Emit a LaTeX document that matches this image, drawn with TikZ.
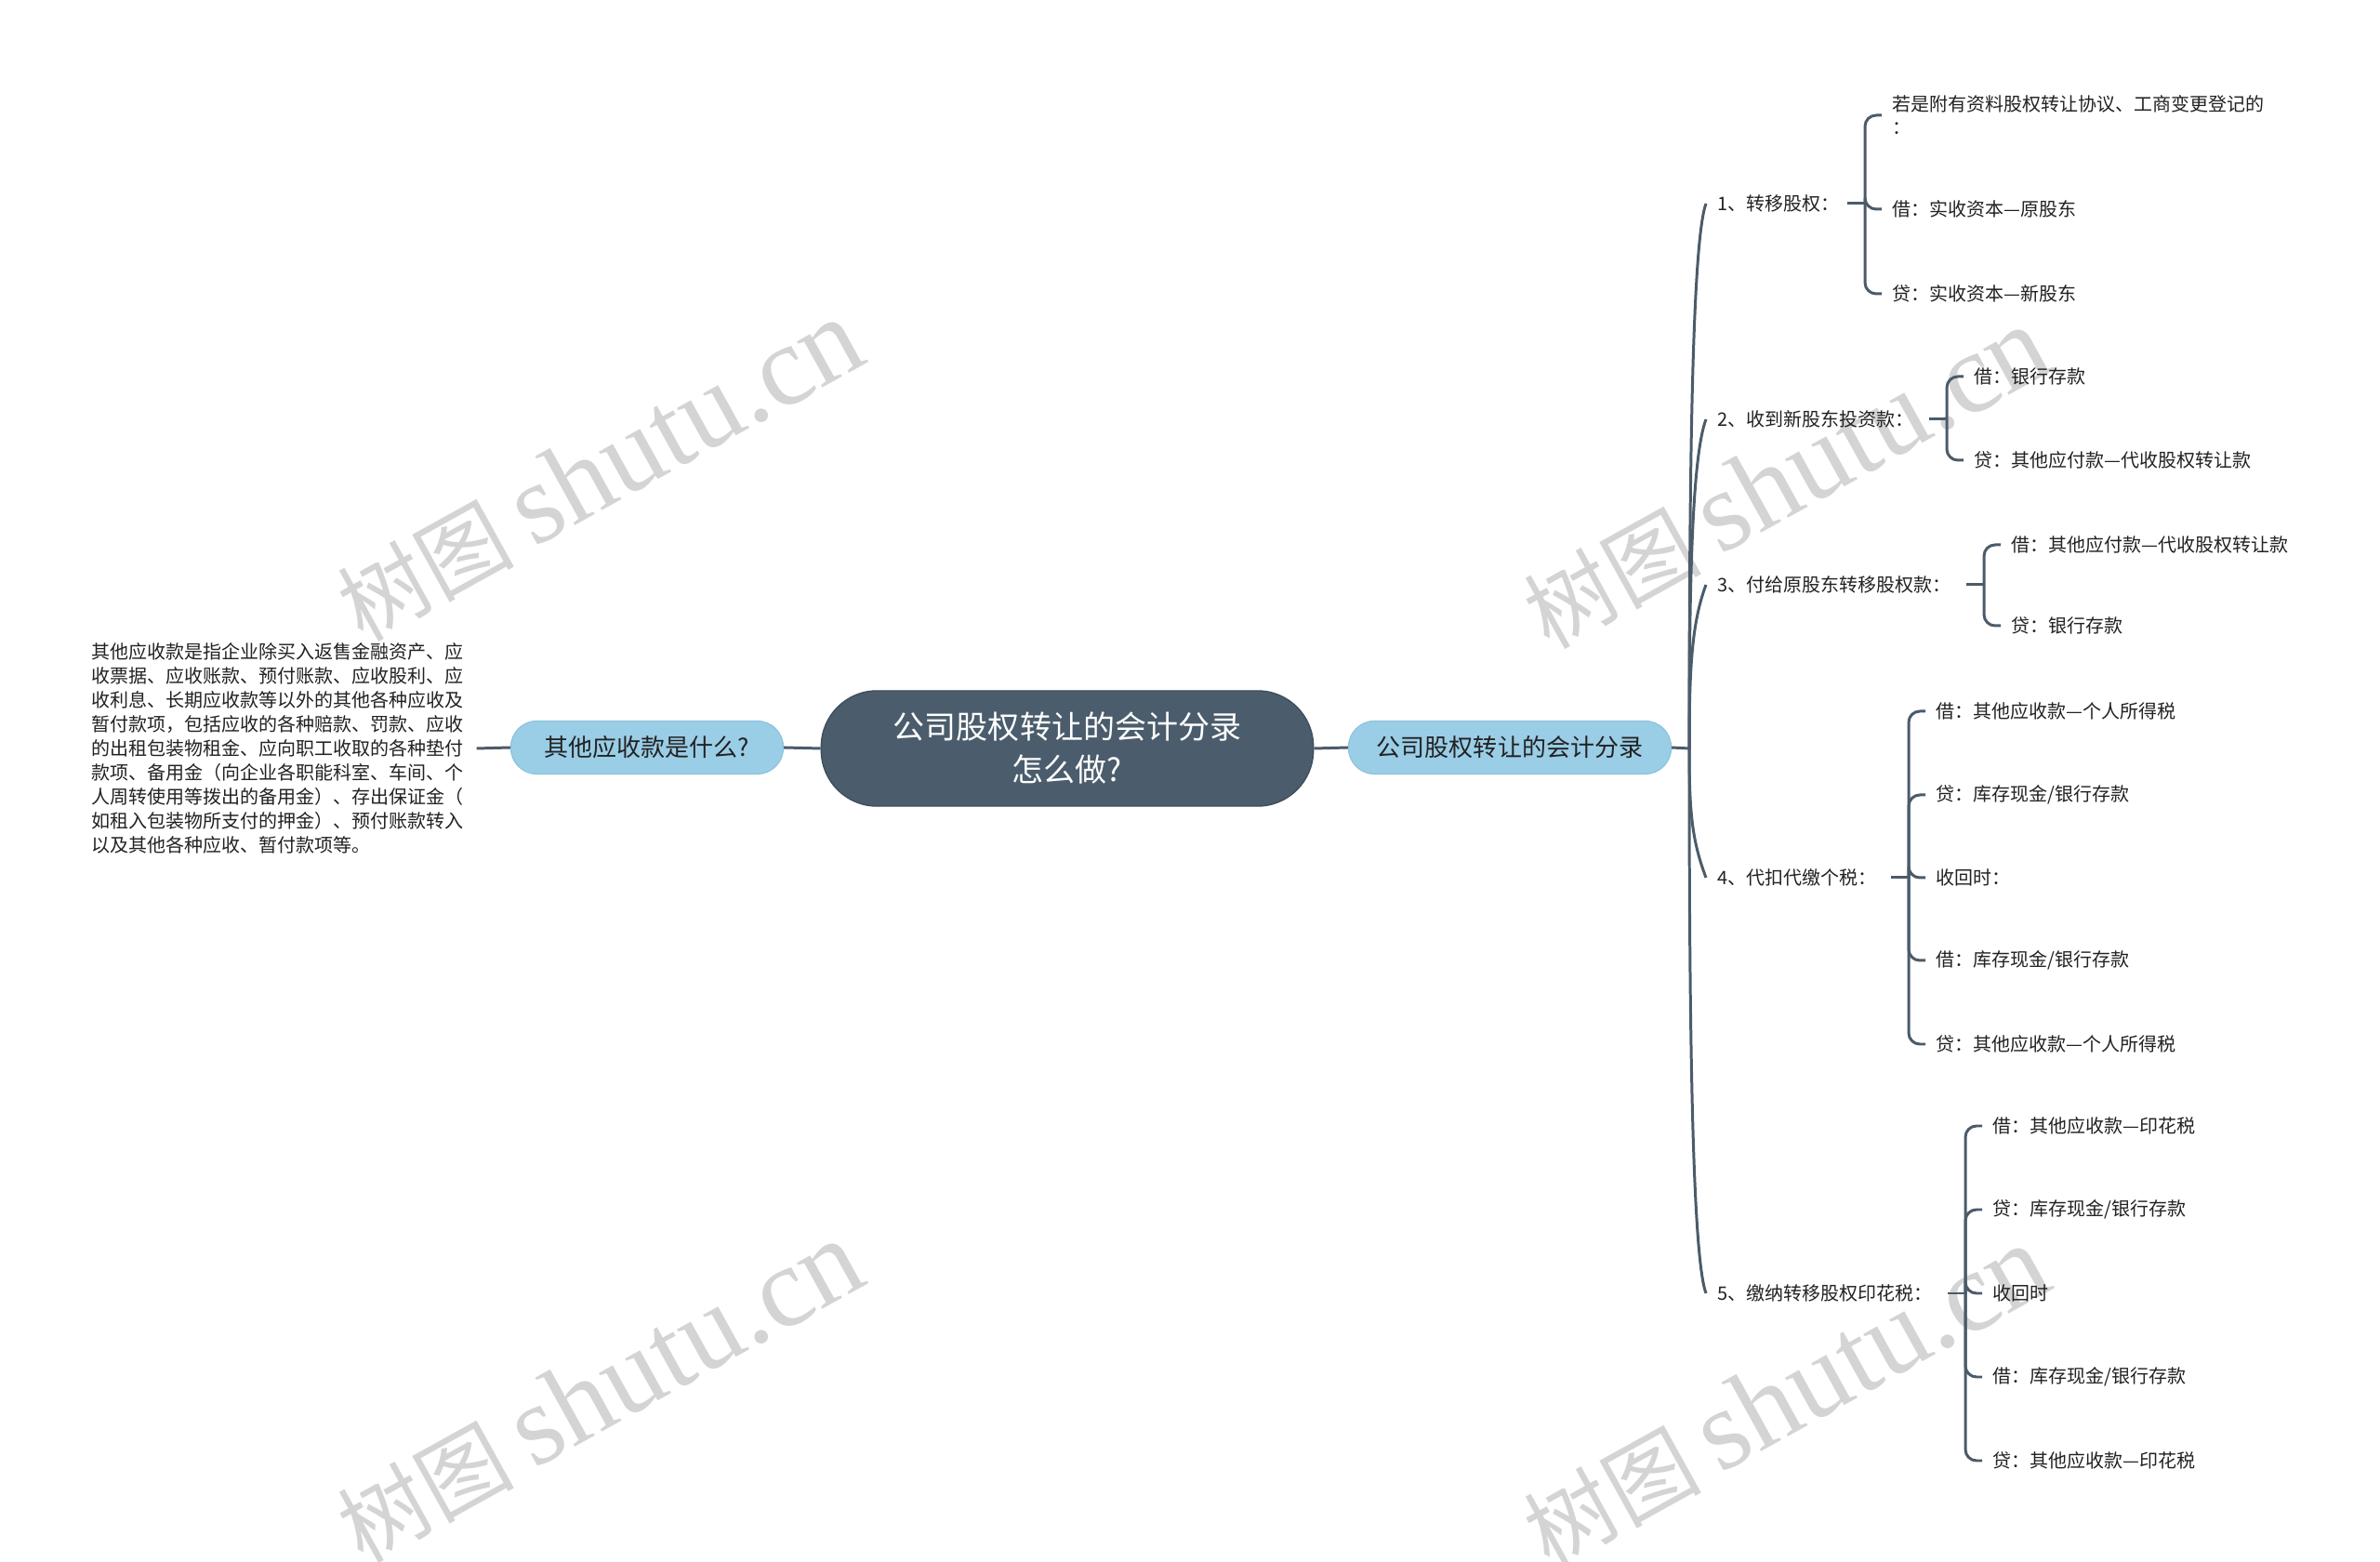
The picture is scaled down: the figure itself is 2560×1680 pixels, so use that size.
\documentclass[tikz,border=0pt]{standalone}
\usepackage{fontspec}
\newfontfamily\cjk{Noto Sans CJK SC}
\newfontfamily\wmserif{Liberation Serif}
\usetikzlibrary{calc}
\definecolor{linec}{HTML}{4B5B6A}
\definecolor{rootc}{HTML}{4B5D6C}
\definecolor{rootb}{HTML}{3E4E5C}
\definecolor{bluec}{HTML}{9ACDE6}
\definecolor{blueb}{HTML}{8CC2DD}
\definecolor{txt}{HTML}{222222}
\definecolor{wm}{HTML}{D4D4D4}
\begin{document}
\begin{tikzpicture}[x=0.01cm,y=-0.01cm,
  conn/.style={draw=linec,line width=0.85pt},
  bracket/.style={conn,rounded corners=0.12cm},
  leaf/.style={anchor=west,inner sep=0pt,text=txt,font=\cjk\fontsize{5.69pt}{7.11pt}\selectfont,align=left},
  topic/.style={fill=bluec,draw=blueb,line width=0.3pt,rounded corners=0.28cm,minimum height=0.57cm,text=txt,font=\cjk\fontsize{7.4pt}{8.9pt}\selectfont,inner sep=0pt},
  rootnode/.style={fill=rootc,draw=rootb,line width=0.4pt,rounded corners=0.6cm,minimum width=5.29cm,minimum height=1.24cm,text=white,font=\cjk\fontsize{9.67pt}{13.09pt}\selectfont,align=center,inner sep=0pt},
  wmark/.style={text=wm,rotate=29,font=\wmserif\fontsize{35pt}{38pt}\selectfont,inner sep=0pt}]
\fill[white] (0,0) rectangle (2560,1680);
\useasboundingbox (0,0) rectangle (2560,1680);

% watermarks
\node[wmark] (w1) at (645,506) {{\cjk\fontsize{27pt}{30pt}\selectfont 树图}\,shutu.cn};
\node[wmark] (w2) at (1921,514) {{\cjk\fontsize{27pt}{30pt}\selectfont 树图}\,shutu.cn};
\node[wmark] (w3) at (645,1497) {{\cjk\fontsize{27pt}{30pt}\selectfont 树图}\,shutu.cn};
\node[wmark] (w4) at (1921,1502) {{\cjk\fontsize{27pt}{30pt}\selectfont 树图}\,shutu.cn};

% main nodes
\node[rootnode] (C) at (1148,805) {公司股权转让的会计分录\\怎么做?};
\node[topic,minimum width=2.93cm] (L) at (696,804) {其他应收款是什么?};
\node[topic,minimum width=3.47cm] (R) at (1624,804) {公司股权转让的会计分录};
\node[leaf,font=\cjk\fontsize{5.69pt}{7.40pt}\selectfont] (T) at (98,805) {其他应收款是指企业除买入返售金融资产、应\\收票据、应收账款、预付账款、应收股利、应\\收利息、长期应收款等以外的其他各种应收及\\暂付款项，包括应收的各种赔款、罚款、应收\\的出租包装物租金、应向职工收取的各种垫付\\款项、备用金（向企业各职能科室、车间、个\\人周转使用等拨出的备用金）、存出保证金（\\如租入包装物所支付的押金）、预付账款转入\\以及其他各种应收、暂付款项等。};
\coordinate (J) at (1817,805);

\draw[conn] ($(T.east)+(13,0)$) -- (L.west);
\draw[conn] (L.east) -- (C.west);
\draw[conn] (C.east) -- (R.west);
\draw[conn] (R.east) -- (J);

% level 1
\node[leaf] (l1) at (1847,219) {1、转移股权：};
\node[leaf] (l2) at (1847,451) {2、收到新股东投资款：};
\node[leaf] (l3) at (1847,629) {3、付给原股东转移股权款：};
\node[leaf] (l4) at (1847,944) {4、代扣代缴个税：};
\node[leaf] (l5) at (1847,1391) {5、缴纳转移股权印花税：};

\foreach \n in {l1,l2,l3}
  \draw[conn] (J) .. controls ($(J)!0.5!(J|-\n.west)$) and ($(\n.west)+(-27,40)$) .. ($(\n.west)+(-12,0)$);
\foreach \n in {l4,l5}
  \draw[conn] (J) .. controls ($(J)!0.5!(J|-\n.west)$) and ($(\n.west)+(-27,-40)$) .. ($(\n.west)+(-12,0)$);

% leaves of 1
\node[leaf] (c11) at (2035,124) {若是附有资料股权转让协议、工商变更登记的\\：};
\node[leaf] (c12) at (2035,225) {借：实收资本—原股东};
\node[leaf] (c13) at (2035,316) {贷：实收资本—新股东};
% leaves of 2
\node[leaf] (c21) at (2123,405) {借：银行存款};
\node[leaf] (c22) at (2123,495) {贷：其他应付款—代收股权转让款};
% leaves of 3
\node[leaf] (c31) at (2163,586) {借：其他应付款—代收股权转让款};
\node[leaf] (c32) at (2163,673) {贷：银行存款};
% leaves of 4
\node[leaf] (c41) at (2082,765) {借：其他应收款—个人所得税};
\node[leaf] (c42) at (2082,855) {贷：库存现金/银行存款};
\node[leaf] (c43) at (2082,944) {收回时：};
\node[leaf] (c44) at (2082,1033) {借：库存现金/银行存款};
\node[leaf] (c45) at (2082,1123) {贷：其他应收款—个人所得税};
% leaves of 5
\node[leaf] (c51) at (2143,1211) {借：其他应收款—印花税};
\node[leaf] (c52) at (2143,1301) {贷：库存现金/银行存款};
\node[leaf] (c53) at (2143,1391) {收回时};
\node[leaf] (c54) at (2143,1481) {借：库存现金/银行存款};
\node[leaf] (c55) at (2143,1571) {贷：其他应收款—印花税};

% bracket points
\coordinate (b1) at (2006,219);
\coordinate (b2) at (2094,451);
\coordinate (b3) at (2134,629);
\coordinate (b4) at (2053,944);
\coordinate (b5) at (2114,1391);

\foreach \b in {b1,b2,b3,b4,b5}
  \draw[conn] ($(\b)+(-19,0)$) -- (\b);
\foreach \c in {c11,c12,c13}
  \draw[bracket] (b1) |- ($(\c.west)+(-11,0)$);
\foreach \c in {c21,c22}
  \draw[bracket] (b2) |- ($(\c.west)+(-11,0)$);
\foreach \c in {c31,c32}
  \draw[bracket] (b3) |- ($(\c.west)+(-11,0)$);
\foreach \c in {c41,c42,c43,c44,c45}
  \draw[bracket] (b4) |- ($(\c.west)+(-11,0)$);
\foreach \c in {c51,c52,c53,c54,c55}
  \draw[bracket] (b5) |- ($(\c.west)+(-11,0)$);
\end{tikzpicture}
\end{document}
